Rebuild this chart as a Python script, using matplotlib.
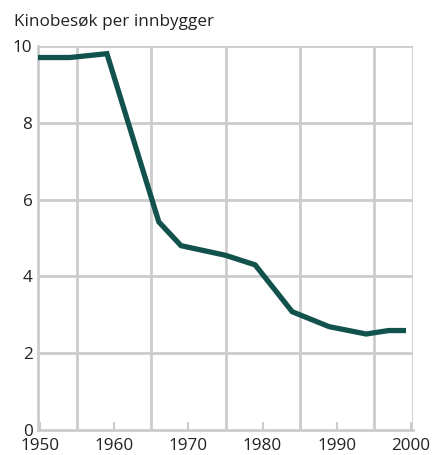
import numpy as np
import matplotlib.pyplot as plt

plt.rcParams['font.family'] = ['Open Sans', 'DejaVu Sans']

# cinema visits per inhabitant
years = [1950, 1954, 1959, 1966, 1969, 1975, 1979, 1984, 1989, 1994, 1997, 1999]
visits = [9.7, 9.7, 9.8, 5.42, 4.8, 4.55, 4.3, 3.08, 2.69, 2.5, 2.59, 2.59]

xticks = [1950, 1960, 1970, 1980, 1990, 2000]
xgrid = [1955, 1965, 1975, 1985, 1995, 2000.3]
yticks = [0, 2, 4, 6, 8, 10]

grid_col = '#cccccc'
line_col = '#12524c'
fs = 12.3

fig = plt.figure(figsize=(4.32, 4.55), dpi=100)
ax = fig.add_axes([38/432, 25/455, 375/432, 384/455])

for g in xgrid:
    ax.axvline(g, color=grid_col, lw=2, zorder=1)
for v in yticks[1:]:
    ax.axhline(v, color=grid_col, lw=2, zorder=1)

ax.plot(years, visits, color=line_col, lw=3.8, solid_joinstyle='miter', zorder=3)

ax.set_xlim(1949.7, 2000.3)
ax.set_ylim(0, 10)
ax.set_xticks(xticks)
ax.set_yticks(yticks)
ax.tick_params(axis='x', direction='in', length=6, width=1.5, color=grid_col,
               labelsize=fs, pad=5.5, labelcolor='#222222')
ax.tick_params(axis='y', length=0, labelsize=fs, pad=4, labelcolor='#222222')

for s in ['top', 'right']:
    ax.spines[s].set_visible(False)
ax.spines['left'].set_color(grid_col)
ax.spines['left'].set_linewidth(2)
ax.spines['bottom'].set_color(grid_col)
ax.spines['bottom'].set_linewidth(2)

fig.text(14/432, 1 - 22/455, 'Kinobesøk per innbygger', fontsize=fs,
         color='#222222', va='center', ha='left')

fig.savefig('out.png', dpi=100)
